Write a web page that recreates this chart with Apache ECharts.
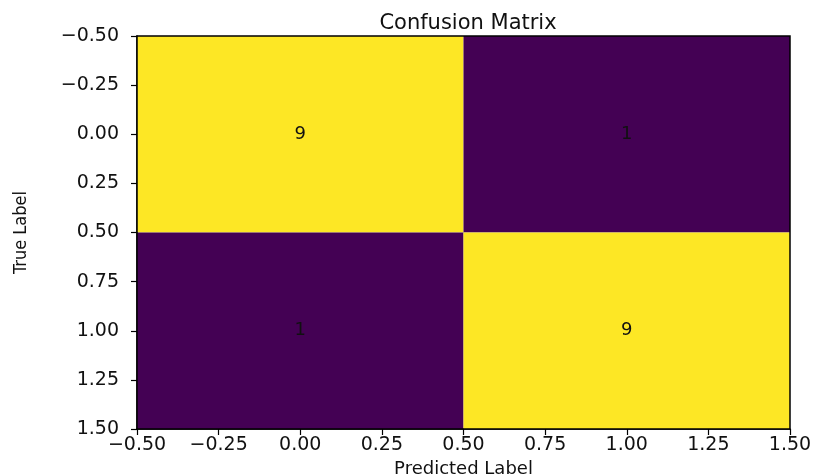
<!DOCTYPE html>
<html>
<head>
<meta charset="utf-8">
<script src="https://cdn.jsdelivr.net/npm/echarts@6/dist/echarts.min.js"></script>
<style>html,body{margin:0;padding:0;background:#fff;}#c{width:818px;height:475px;}</style>
</head>
<body>
<div id="c"></div>
<script>
// Data
const predictedIdx = [0, 1];
const trueIdx = [0, 1];
const counts = [[9, 1], [1, 9]]; // counts[true][predicted]
const axisTicks = [-0.5, -0.25, 0, 0.25, 0.5, 0.75, 1, 1.25, 1.5];

const cells = [];
trueIdx.forEach((t, i) => predictedIdx.forEach((p, j) => cells.push([p, t, counts[i][j]])));

const chart = echarts.init(document.getElementById('c'));
const font = 'DejaVu Sans';
const fmt = v => (v < 0 ? '\u2212' : '') + Math.abs(v).toFixed(2);

chart.setOption({
  animation: false,
  title: {
    text: 'Confusion Matrix', left: 463, top: 8, textAlign: 'center',
    textStyle: { fontFamily: font, fontSize: 21, fontWeight: 'normal', color: '#111' }
  },
  grid: { left: 137, right: 28, top: 36, bottom: 46, outerBoundsMode: 'none', containLabel: false },
  xAxis: {
    type: 'value', min: -0.5, max: 1.5, interval: 0.25,
    name: 'Predicted Label', nameLocation: 'middle', nameGap: 30,
    nameTextStyle: { fontFamily: font, fontSize: 18, color: '#111' },
    axisLine: { show: true, onZero: false, lineStyle: { color: '#000', width: 1.5 } },
    axisTick: { show: true, length: 6, lineStyle: { color: '#000', width: 1.2 } },
    axisLabel: { formatter: fmt, fontFamily: font, fontSize: 19, color: '#111', margin: 7 },
    splitLine: { show: false }
  },
  yAxis: {
    type: 'value', min: -0.5, max: 1.5, interval: 0.25, inverse: true,
    name: 'True Label', nameLocation: 'middle', nameGap: 107, nameRotate: 90,
    nameTextStyle: { fontFamily: 'DejaVu Sans Condensed', fontSize: 18, color: '#111' },
    axisLine: { show: true, onZero: false, lineStyle: { color: '#000', width: 1.5 } },
    axisTick: { show: true, length: 6, lineStyle: { color: '#000', width: 1.2 } },
    axisLabel: { formatter: fmt, fontFamily: font, fontSize: 19, color: '#111', margin: 18 },
    splitLine: { show: false }
  },
  series: [{
    type: 'custom',
    data: cells,
    renderItem: (params, api) => {
      const x = api.value(0), y = api.value(1), v = api.value(2);
      const p0 = api.coord([x - 0.5, y - 0.5]);
      const p1 = api.coord([x + 0.5, y + 0.5]);
      const c = api.coord([x, y]);
      return {
        type: 'group',
        children: [
          { type: 'rect', shape: { x: p0[0], y: p0[1], width: p1[0] - p0[0], height: p1[1] - p0[1] },
            style: { fill: v > 5 ? '#fde725' : '#440154' } },
          { type: 'text', style: { text: String(v), x: c[0], y: c[1], align: 'center', verticalAlign: 'middle',
            fontFamily: font, fontSize: 18, fill: '#111' } }
        ]
      };
    },
    z: 1
  }, {
    type: 'custom',
    data: [[0]],
    renderItem: (params, api) => {
      const p0 = api.coord([-0.5, -0.5]), p1 = api.coord([1.5, 1.5]);
      return { type: 'rect', shape: { x: p0[0], y: p0[1], width: p1[0] - p0[0], height: p1[1] - p0[1] },
        style: { fill: 'none', stroke: '#000', lineWidth: 1.5 } };
    },
    z: 3
  }]
});
</script>
</body>
</html>
